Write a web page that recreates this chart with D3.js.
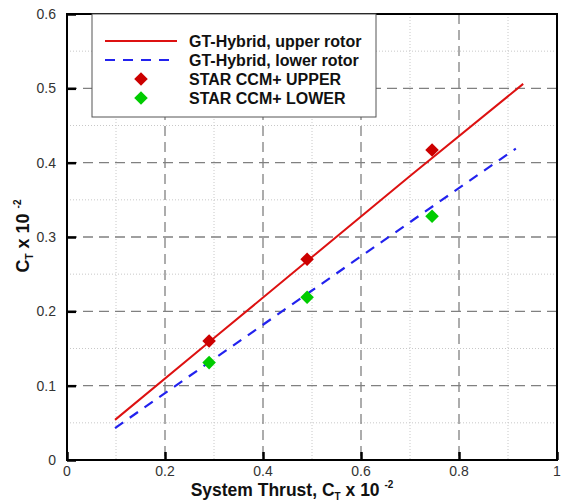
<!DOCTYPE html>
<html><head><meta charset="utf-8">
<script src="https://cdn.jsdelivr.net/npm/d3@7"></script>
<style>body{margin:0;background:#fff}svg{display:block}</style>
</head><body>
<svg id="c" width="566" height="501"></svg>
<script>
const upperLineX = [0.098, 0.3, 0.5, 0.7, 0.931];
const upperLineY = [0.054, 0.164, 0.273, 0.382, 0.506];
const lowerLineX = [0.098, 0.3, 0.5, 0.7, 0.916];
const lowerLineY = [0.043, 0.136, 0.228, 0.320, 0.419];
const upperPtsX = [0.29, 0.49, 0.745];
const upperPtsY = [0.160, 0.270, 0.417];
const lowerPtsX = [0.29, 0.49, 0.745];
const lowerPtsY = [0.131, 0.219, 0.328];
const xTicks = [0, 0.2, 0.4, 0.6, 0.8, 1];
const yTicks = [0, 0.1, 0.2, 0.3, 0.4, 0.5, 0.6];
const xMinor = [0.1, 0.3, 0.5, 0.7, 0.9];
const yMinor = [0.05, 0.15, 0.25, 0.35, 0.45, 0.55];
const legendLabels = ["GT-Hybrid, upper rotor", "GT-Hybrid, lower rotor", "STAR CCM+ UPPER", "STAR CCM+ LOWER"];

const svg = d3.select("#c");
const L = 67, R = 557, T = 14, B = 460;
const x = d3.scaleLinear().domain([0, 1]).range([L, R]);
const y = d3.scaleLinear().domain([0, 0.6]).range([B, T]);
const font = "Liberation Sans, Arial, sans-serif";

// grid
const g = svg.append("g");
g.selectAll(".xm").data(xMinor).enter().append("line")
  .attr("x1", d => x(d)).attr("x2", d => x(d)).attr("y1", T).attr("y2", B)
  .attr("stroke", "#c8c8c8").attr("stroke-width", 1).attr("stroke-dasharray", "1,2");
g.selectAll(".ym").data(yMinor).enter().append("line")
  .attr("y1", d => y(d)).attr("y2", d => y(d)).attr("x1", L).attr("x2", R)
  .attr("stroke", "#c8c8c8").attr("stroke-width", 1).attr("stroke-dasharray", "1,2");
g.selectAll(".xM").data(xTicks.slice(1, -1)).enter().append("line")
  .attr("x1", d => x(d)).attr("x2", d => x(d)).attr("y1", T).attr("y2", B)
  .attr("stroke", "#808080").attr("stroke-width", 1.3).attr("stroke-dasharray", "10,6");
g.selectAll(".yM").data(yTicks.slice(1, -1)).enter().append("line")
  .attr("y1", d => y(d)).attr("y2", d => y(d)).attr("x1", L).attr("x2", R)
  .attr("stroke", "#808080").attr("stroke-width", 1.3).attr("stroke-dasharray", "10,6");

// axes with inward ticks (left and bottom only)
function ax(a, tr, w) {
  const s = svg.append("g").attr("transform", tr).call(a);
  s.select(".domain").remove();
  s.selectAll("line").attr("stroke", "#000").attr("stroke-width", w);
}
ax(d3.axisTop(x).tickValues(xTicks).tickSize(8).tickFormat(""), `translate(0,${B})`, 2.5);
ax(d3.axisRight(y).tickValues(yTicks).tickSize(9).tickFormat(""), `translate(${L},0)`, 2.5);

// tick labels
svg.selectAll(".xl").data(xTicks).enter().append("text")
  .attr("x", d => x(d)).attr("y", B + 16).attr("text-anchor", "middle")
  .attr("font-family", font).attr("font-size", 14).attr("fill", "#333")
  .text(d => d3.format("")(d));
svg.selectAll(".yl").data(yTicks).enter().append("text")
  .attr("x", L - 11).attr("y", d => y(d) + 5).attr("text-anchor", "end")
  .attr("font-family", font).attr("font-size", 14).attr("fill", "#333")
  .text(d => d === 0 ? "0" : d3.format(".1f")(d));

// lines
const line = d3.line().x(d => x(d[0])).y(d => y(d[1]));
const up = upperLineX.map((v, i) => [v, upperLineY[i]]);
const lo = lowerLineX.map((v, i) => [v, lowerLineY[i]]);
svg.append("path").attr("d", line(lo)).attr("fill", "none").attr("stroke", "#2222ee")
  .attr("stroke-width", 2.2).attr("stroke-dasharray", "10,8");
svg.append("path").attr("d", line(up)).attr("fill", "none").attr("stroke", "#dd1111")
  .attr("stroke-width", 2);

const diamond = d3.symbol().type(d3.symbolSquare).size(92);
function pts(xs, ys, col) {
  svg.selectAll(null).data(xs).enter().append("path")
    .attr("d", diamond())
    .attr("transform", (d, i) => `translate(${x(d)},${y(ys[i])}) rotate(45)`)
    .attr("fill", col);
}
pts(upperPtsX, upperPtsY, "#cc0000");
pts(lowerPtsX, lowerPtsY, "#00cc00");

// frame
svg.append("rect").attr("x", L).attr("y", T).attr("width", R - L).attr("height", B - T)
  .attr("fill", "none").attr("stroke", "#000").attr("stroke-width", 2);

// legend
const lg = svg.append("g");
lg.append("rect").attr("x", 92).attr("y", 14).attr("width", 284).attr("height", 103)
  .attr("fill", "#fff").attr("stroke", "#555").attr("stroke-width", 1);
const ly = [41, 60, 79, 98];
lg.append("line").attr("x1", 105).attr("x2", 177).attr("y1", ly[0]).attr("y2", ly[0])
  .attr("stroke", "#dd1111").attr("stroke-width", 2);
lg.append("line").attr("x1", 105).attr("x2", 177).attr("y1", ly[1]).attr("y2", ly[1])
  .attr("stroke", "#2222ee").attr("stroke-width", 2.2).attr("stroke-dasharray", "10,8");
lg.append("path").attr("d", diamond()).attr("transform", `translate(141,${ly[2]}) rotate(45)`).attr("fill", "#cc0000");
lg.append("path").attr("d", diamond()).attr("transform", `translate(141,${ly[3]}) rotate(45)`).attr("fill", "#00cc00");
lg.selectAll("text").data(legendLabels).enter().append("text")
  .attr("x", 189).attr("y", (d, i) => ly[i] + 5.5)
  .attr("font-family", font).attr("font-size", 16).attr("font-weight", "bold").attr("fill", "#111")
  .text(d => d);

// axis titles
const xt = svg.append("text").attr("x", 292).attr("y", 496).attr("text-anchor", "middle")
  .attr("font-family", font).attr("font-size", 17.5).attr("font-weight", "bold").attr("fill", "#111");
xt.append("tspan").text("System Thrust, C");
xt.append("tspan").attr("font-size", 10).attr("dy", 4).text("T");
xt.append("tspan").attr("dy", -4).text(" x 10 ");
xt.append("tspan").attr("font-size", 10).attr("dy", -8).text("-2");

const yt = svg.append("text").attr("transform", "translate(29,236) rotate(-90)").attr("text-anchor", "middle")
  .attr("font-family", font).attr("font-size", 18).attr("font-weight", "bold").attr("fill", "#111");
yt.append("tspan").text("C");
yt.append("tspan").attr("font-size", 10).attr("dy", 4).text("T");
yt.append("tspan").attr("dy", -4).text(" x 10 ");
yt.append("tspan").attr("font-size", 10).attr("dy", -8).text("-2");
</script>
</body></html>
